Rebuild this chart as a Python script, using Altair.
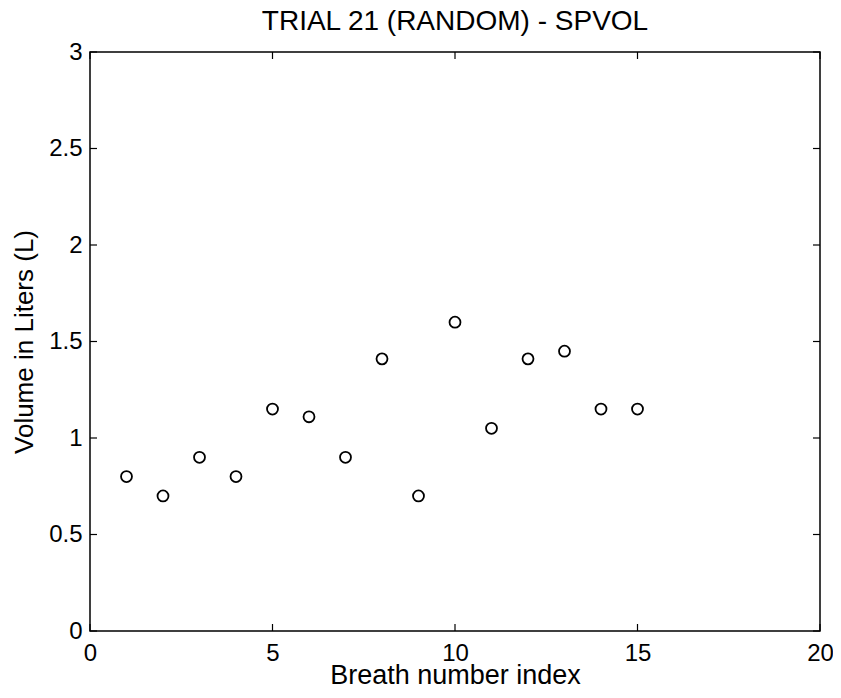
import altair as alt
import pandas as pd

# Data
breath = list(range(1, 16))
volume = [0.80, 0.70, 0.90, 0.80, 1.15, 1.11, 0.90, 1.41, 0.70, 1.60, 1.05, 1.41, 1.45, 1.15, 1.15]
x_ticks = [0, 5, 10, 15, 20]
y_ticks = [0, 0.5, 1, 1.5, 2, 2.5, 3]

W, H = 730, 579
TL = 7
FONT = "Liberation Sans"

df = pd.DataFrame({"breath": breath, "volume": volume})
xt = pd.DataFrame({"breath": x_ticks})
yt = pd.DataFrame({"volume": y_ticks})

xscale = alt.Scale(domain=[0, 20], nice=False, zero=False)
yscale = alt.Scale(domain=[0, 3], nice=False, zero=False)

axis_common = dict(ticks=False, grid=False, domain=False, labelFlush=False, format="~g",
                   labelFontSize=24, labelFont=FONT, titleFont=FONT,
                   labelColor="black", titleColor="black", titleFontWeight="normal")

points = alt.Chart(df).mark_point(
    shape="circle", filled=False, color="black", size=120, strokeWidth=1.8, opacity=1
).encode(
    x=alt.X("breath:Q", scale=xscale,
            axis=alt.Axis(values=x_ticks, title="Breath number index", titleFontSize=27,
                          labelPadding=10, titlePadding=-3, **axis_common)),
    y=alt.Y("volume:Q", scale=yscale,
            axis=alt.Axis(values=y_ticks, title="Volume in Liters (L)", titleFontSize=26,
                          labelPadding=8, titlePadding=11, **axis_common)),
)

rule_style = dict(color="black", strokeWidth=1.2)

bottom_ticks = alt.Chart(xt).mark_rule(**rule_style).encode(
    x=alt.X("breath:Q", scale=xscale), y=alt.value(H), y2=alt.value(H - TL))
top_ticks = alt.Chart(xt).mark_rule(**rule_style).encode(
    x=alt.X("breath:Q", scale=xscale), y=alt.value(0), y2=alt.value(TL))
left_ticks = alt.Chart(yt).mark_rule(**rule_style).encode(
    y=alt.Y("volume:Q", scale=yscale), x=alt.value(0), x2=alt.value(TL))
right_ticks = alt.Chart(yt).mark_rule(**rule_style).encode(
    y=alt.Y("volume:Q", scale=yscale), x=alt.value(W), x2=alt.value(W - TL))

chart = alt.layer(points, bottom_ticks, top_ticks, left_ticks, right_ticks).properties(
    width=W, height=H,
    background="white",
    title=alt.Title("TRIAL 21 (RANDOM) - SPVOL", fontSize=28, font=FONT, fontWeight="normal",
                    color="black", offset=4, anchor="middle"),
    autosize=alt.AutoSizeParams(type="none"),
    padding={"left": 82, "top": 44, "right": 13, "bottom": 59},
).configure_view(stroke="black", strokeWidth=1.5)

chart.save("out.html", embed_options={"renderer": "svg", "actions": False})
